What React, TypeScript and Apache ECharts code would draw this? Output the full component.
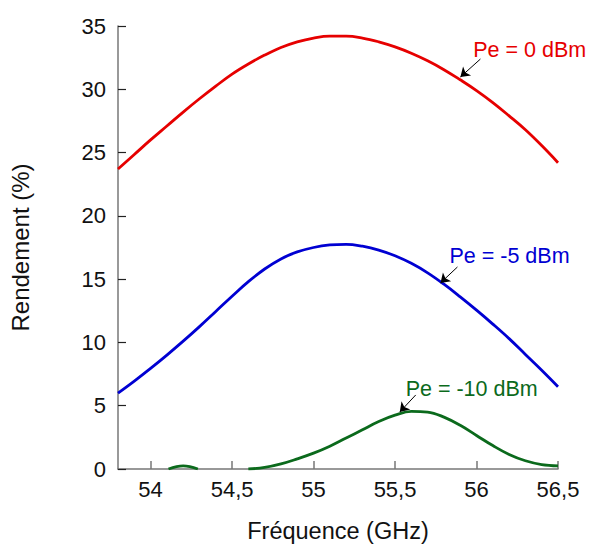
import React, { useEffect, useRef } from "react";
import * as echarts from "echarts";

const freq = [53.8, 53.9, 54.0, 54.1, 54.2, 54.3, 54.4, 54.5, 54.6, 54.7, 54.8, 54.9, 55.0, 55.1, 55.2, 55.3, 55.4, 55.5, 55.6, 55.7, 55.8, 55.9, 56.0, 56.1, 56.2, 56.3, 56.4, 56.5];
const pe0 = [23.7, 24.85, 26.0, 27.1, 28.2, 29.25, 30.25, 31.2, 32.0, 32.7, 33.3, 33.75, 34.05, 34.2, 34.2, 34.05, 33.75, 33.35, 32.85, 32.25, 31.55, 30.75, 29.9, 28.95, 27.9, 26.8, 25.55, 24.2];
const pe5 = [6.0, 6.95, 7.95, 9.0, 10.1, 11.25, 12.45, 13.65, 14.8, 15.8, 16.6, 17.15, 17.5, 17.7, 17.75, 17.6, 17.3, 16.85, 16.25, 15.5, 14.6, 13.6, 12.55, 11.45, 10.3, 9.05, 7.8, 6.5];
const freq10 = [54.11, 54.2, 54.29, 54.45, 54.6, 54.7, 54.8, 54.9, 55.0, 55.1, 55.2, 55.3, 55.4, 55.5, 55.6, 55.7, 55.8, 55.9, 56.0, 56.1, 56.2, 56.3, 56.4, 56.5];
const pe10: (number | null)[] = [0, 0.25, 0, null, 0, 0.12, 0.4, 0.8, 1.25, 1.8, 2.45, 3.1, 3.75, 4.25, 4.55, 4.5, 4.1, 3.45, 2.65, 1.85, 1.15, 0.65, 0.35, 0.24];

const xTicks = [54, 54.5, 55, 55.5, 56, 56.5];
const labels = ["Pe = 0 dBm", "Pe = -5 dBm", "Pe = -10 dBm"];
const labelPos = [[55.98, 33.1], [55.834, 16.83], [55.565, 6.32]];
const arrowFrom = [[56.024, 32.39], [55.883, 15.96], [55.627, 5.85]];
const arrowTo = [[55.901, 30.97], [55.779, 14.7], [55.529, 4.5]];
const colors = ["#e60000", "#0000d2", "#0b6a1c"];

const FONT = "Liberation Sans, Arial, sans-serif";

export default function App() {
  const ref = useRef<HTMLDivElement>(null);
  useEffect(() => {
    if (!ref.current) return;
    const chart = echarts.init(ref.current, null, { renderer: "svg" });
    const series: any[] = [
      freq.map((x, i) => [x, pe0[i]]),
      freq.map((x, i) => [x, pe5[i]]),
      freq10.map((x, i) => [x, pe10[i]]),
    ].map((data, k) => ({
      type: "line",
      data,
      smooth: 0.4,
      showSymbol: false,
      connectNulls: false,
      lineStyle: { color: colors[k], width: 2.8 },
      itemStyle: { color: colors[k] },
      markPoint: {
        symbol: "circle",
        symbolSize: 0,
        data: [
          {
            coord: labelPos[k],
            label: {
              show: true,
              position: "inside",
              align: "left",
              verticalAlign: "middle",
              formatter: labels[k],
              color: colors[k],
              fontSize: 21.5,
              fontFamily: FONT,
            },
          },
        ],
      },
    }));
    // arrows: a separate series per arrow, drawn as markLine with arrowhead
    arrowFrom.forEach((from, k) => {
      series.push({
        type: "line",
        data: [],
        silent: true,
        z: 5,
        markLine: {
          silent: true,
          symbol: ["none", "arrow"],
          symbolSize: 9,
          label: { show: false },
          itemStyle: { color: "#000" },
          lineStyle: { color: "#000", width: 1, type: "solid" },
          data: [[{ coord: from, itemStyle: { color: "#000" } }, { coord: arrowTo[k], symbol: "arrow", symbolSize: 9, itemStyle: { color: "#000" } }]],
        },
      });
    });
    chart.setOption({
      animation: false,
      backgroundColor: "#fff",
      grid: { left: 116, right: 31, top: 26, bottom: 79 },
      xAxis: {
        type: "value",
        min: 53.8,
        max: 56.5,
        name: "Fréquence (GHz)",
        nameLocation: "middle",
        nameGap: 50,
        nameTextStyle: { fontSize: 23.5, color: "#111", fontFamily: FONT },
        axisLine: { show: true, lineStyle: { color: "#777", width: 1.5 } },
        axisTick: { show: true, inside: true, length: 8, customValues: xTicks, lineStyle: { color: "#777", width: 1.5 } },
        axisLabel: {
          customValues: xTicks,
          margin: 9,
          fontSize: 22,
          color: "#111",
          fontFamily: FONT,
          formatter: (v: number) => String(v).replace(".", ","),
        },
        splitLine: { show: false },
      },
      yAxis: {
        type: "value",
        min: 0,
        max: 35,
        interval: 5,
        name: "Rendement (%)",
        nameLocation: "middle",
        nameGap: 86,
        nameTextStyle: { fontSize: 24, color: "#111", fontFamily: FONT },
        axisLine: { show: true, lineStyle: { color: "#777", width: 1.5 } },
        axisTick: { show: true, inside: true, length: 8, lineStyle: { color: "#222", width: 1.2 } },
        axisLabel: { margin: 12, fontSize: 22, color: "#111", fontFamily: FONT },
        splitLine: { show: false },
      },
      series,
    });
    return () => chart.dispose();
  }, []);
  return (
    <div
      ref={ref}
      style={{ position: "fixed", left: 0, top: 0, width: 589, height: 548 }}
    />
  );
}
